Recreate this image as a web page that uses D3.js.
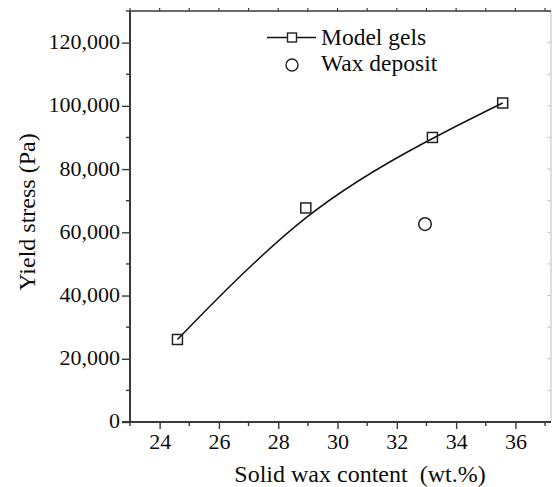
<!DOCTYPE html>
<html>
<head>
<meta charset="utf-8">
<script src="https://cdn.jsdelivr.net/npm/d3@7"></script>
<style>
  html, body { margin: 0; padding: 0; background: #fff; }
  svg { display: block; }
</style>
</head>
<body>
<svg id="chart" width="552" height="487"></svg>
<script>
// ---- data ----
const modelWax = [24.6, 28.93, 33.2, 35.57];
const modelStress = [26100, 67700, 90000, 100900];
const depositWax = [32.95];
const depositStress = [62600];
const xTickValues = [24, 26, 28, 30, 32, 34, 36];
const yTickValues = [0, 20000, 40000, 60000, 80000, 100000, 120000];
const seriesNames = ["Model gels", "Wax deposit"];
const xTitle = "Solid wax content  (wt.%)";
const yTitle = "Yield stress (Pa)";

// ---- layout ----
const FONT = "'Liberation Serif', 'Times New Roman', Times, serif";
const L = 130, R = 551, T = 11, B = 422;
const svg = d3.select("#chart").attr("font-family", FONT);
const x = d3.scaleLinear().domain([23, 37.2]).range([L, R]);
const y = d3.scaleLinear().domain([0, 130000]).range([B, T]);

const axisColor = "#3a3a3a";
const textColor = "#0d0d0d";
const fmt = d3.format(",");

const xMinor = d3.range(23, 37.01, 1);
const yMinor = d3.range(0, 130001, 10000);

// Right frame (faint) with inward ticks
const gR = svg.append("g");
gR.append("line").attr("x1", R).attr("x2", R).attr("y1", T).attr("y2", B)
  .attr("stroke", "#c8c8c8").attr("stroke-width", 1.2);
gR.selectAll("line.t").data(yMinor.filter(v => v > 0)).join("line").attr("class", "t")
  .attr("x1", R).attr("x2", R - 4).attr("y1", d => y(d)).attr("y2", d => y(d))
  .attr("stroke", "#c8c8c8").attr("stroke-width", 1);

// Top frame with short outward ticks
const gT = svg.append("g");
gT.append("line").attr("x1", L).attr("x2", R).attr("y1", T).attr("y2", T)
  .attr("stroke", axisColor).attr("stroke-width", 1.6);
gT.selectAll("line.t").data(xMinor).join("line").attr("class", "t")
  .attr("x1", d => x(d)).attr("x2", d => x(d)).attr("y1", T).attr("y2", T - 3)
  .attr("stroke", axisColor).attr("stroke-width", 1.2);

// Bottom axis
const gx = svg.append("g").attr("transform", `translate(0,${B})`)
  .call(d3.axisBottom(x).tickValues(xTickValues).tickSize(7).tickFormat(d3.format("d")));
gx.attr("font-family", FONT).attr("font-size", 22);
gx.select(".domain").remove();
gx.selectAll(".tick line").attr("stroke", axisColor).attr("stroke-width", 1.4);
gx.selectAll(".tick text").attr("y", 11).attr("dy", "0.71em").attr("fill", textColor);
svg.append("g").selectAll("line").data(xMinor.filter(v => !xTickValues.includes(v))).join("line")
  .attr("x1", d => x(d)).attr("x2", d => x(d)).attr("y1", B).attr("y2", B + 4)
  .attr("stroke", axisColor).attr("stroke-width", 1.4);
svg.append("line").attr("x1", L - 8).attr("x2", R).attr("y1", B).attr("y2", B)
  .attr("stroke", axisColor).attr("stroke-width", 1.8);

// Left axis
const gy = svg.append("g").attr("transform", `translate(${L},0)`)
  .call(d3.axisLeft(y).tickValues(yTickValues).tickSize(8).tickFormat(d => fmt(d)));
gy.attr("font-family", FONT).attr("font-size", 22);
gy.select(".domain").remove();
gy.selectAll(".tick line").attr("stroke", axisColor).attr("stroke-width", 1.4);
gy.selectAll(".tick text").attr("x", -10).attr("dy", "0.27em").attr("fill", textColor);
svg.append("g").selectAll("line").data(yMinor.filter(v => !yTickValues.includes(v))).join("line")
  .attr("x1", L).attr("x2", L - 4).attr("y1", d => y(d)).attr("y2", d => y(d))
  .attr("stroke", axisColor).attr("stroke-width", 1.4);
svg.append("line").attr("x1", L).attr("x2", L).attr("y1", T).attr("y2", B)
  .attr("stroke", axisColor).attr("stroke-width", 2);

// Axis titles
svg.append("text").attr("x", 360).attr("y", 482).attr("text-anchor", "middle")
  .attr("font-size", 24).attr("fill", textColor).style("white-space", "pre")
  .attr("xml:space", "preserve").text(xTitle);
svg.append("text").attr("transform", "translate(35,212) rotate(-90)")
  .attr("text-anchor", "middle").attr("font-size", 24).attr("fill", textColor).text(yTitle);

// Model gels curve (B-spline through the points)
const pts = modelWax.map((w, i) => [w, modelStress[i]]);
svg.append("path").datum(pts)
  .attr("d", d3.line().x(d => x(d[0])).y(d => y(d[1])).curve(d3.curveBasis))
  .attr("fill", "none").attr("stroke", "#111").attr("stroke-width", 1.5);

const sq = 10;
svg.append("g").selectAll("rect").data(pts).join("rect")
  .attr("x", d => x(d[0]) - sq / 2).attr("y", d => y(d[1]) - sq / 2)
  .attr("width", sq).attr("height", sq)
  .attr("fill", "none").attr("stroke", "#222").attr("stroke-width", 1.5);

// Wax deposit
svg.append("g").selectAll("circle").data(depositWax.map((w, i) => [w, depositStress[i]])).join("circle")
  .attr("cx", d => x(d[0])).attr("cy", d => y(d[1])).attr("r", 6.3)
  .attr("fill", "none").attr("stroke", "#222").attr("stroke-width", 1.5);

// Legend
const lg = svg.append("g");
lg.append("line").attr("x1", 267).attr("x2", 316).attr("y1", 37.5).attr("y2", 37.5)
  .attr("stroke", "#111").attr("stroke-width", 1.5);
lg.append("rect").attr("x", 292 - 4.5).attr("y", 37.5 - 4.5).attr("width", 9).attr("height", 9)
  .attr("fill", "#fff").attr("stroke", "#222").attr("stroke-width", 1.4);
lg.append("circle").attr("cx", 292).attr("cy", 65).attr("r", 6)
  .attr("fill", "none").attr("stroke", "#222").attr("stroke-width", 1.4);
lg.append("text").attr("x", 321).attr("y", 44.5).attr("font-size", 23.5).attr("fill", textColor).text(seriesNames[0]);
lg.append("text").attr("x", 321).attr("y", 71).attr("font-size", 23.5).attr("fill", textColor).text(seriesNames[1]);
</script>
</body>
</html>
